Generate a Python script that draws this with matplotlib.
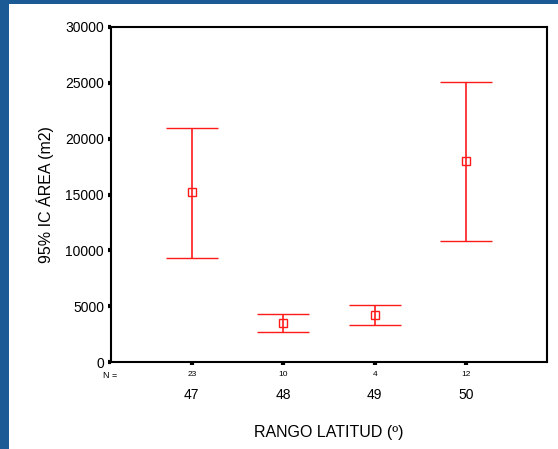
import matplotlib
matplotlib.use('Agg')
import matplotlib.pyplot as plt
from matplotlib.patches import Rectangle
import matplotlib.transforms as mtransforms
import numpy as np

plt.rcParams['font.family'] = ['Liberation Sans', 'DejaVu Sans']

# datos: IC 95% del área por rango de latitud
rangos = [47, 48, 49, 50]
n_casos = [23, 10, 4, 12]
media = [15200, 3500, 4200, 18000]
ic_inf = [9300, 2700, 3300, 10800]
ic_sup = [21000, 4300, 5100, 25100]

fig = plt.figure(figsize=(5.58, 4.49), dpi=100, facecolor='#1b5a94')
# fondo blanco de la diapositiva
fig.patches.append(Rectangle((9 / 558, 0), 1, 1 - 4 / 449, transform=fig.transFigure,
                             facecolor='white', edgecolor='none', zorder=-10))

ax = fig.add_axes([111 / 558, 1 - 362 / 449, (547 - 111) / 558, (362 - 27) / 449])
ax.set_facecolor('white')

media = np.array(media)
yerr = [media - np.array(ic_inf), np.array(ic_sup) - media]
ax.errorbar(rangos, media, yerr=yerr, fmt='s', color='#ff1a1a', ecolor='#ff1a1a',
            markerfacecolor='none', markersize=5.5, markeredgewidth=1,
            elinewidth=1.2, capsize=19, capthick=1.2)

ax.set_xlim(46.117, 50.883)
ax.set_ylim(0, 30000)
ax.set_yticks(np.arange(0, 30001, 5000))
ax.set_yticklabels([str(v) for v in range(0, 30001, 5000)], fontsize=10)
ax.set_xticks(rangos)
ax.set_xticklabels([str(r) for r in rangos], fontsize=10)
ax.tick_params(axis='both', direction='out', length=2, width=3, color='black')
ax.tick_params(axis='x', pad=17)
ax.tick_params(axis='y', pad=3)

for s in ax.spines.values():
    s.set_color('black')
    s.set_linewidth(1.5)

# recuentos N bajo cada categoría
trans = mtransforms.blended_transform_factory(ax.transData, fig.transFigure)
for r, n in zip(rangos, n_casos):
    ax.text(r, 1 - 375 / 449, str(n), transform=trans, fontsize=6,
            ha='center', va='center')
fig.text(110 / 558, 1 - 375 / 449, 'N =', fontsize=6.5, ha='center', va='center')

fig.text(45 / 558, 1 - 195 / 449, '95% IC ÁREA (m2)', fontsize=11.5, rotation=90,
         ha='center', va='center')
fig.text(329 / 558, 1 - 433 / 449, 'RANGO LATITUD (º)', fontsize=11.5,
         ha='center', va='center')

fig.savefig('out.png', dpi=100, facecolor=fig.get_facecolor())
